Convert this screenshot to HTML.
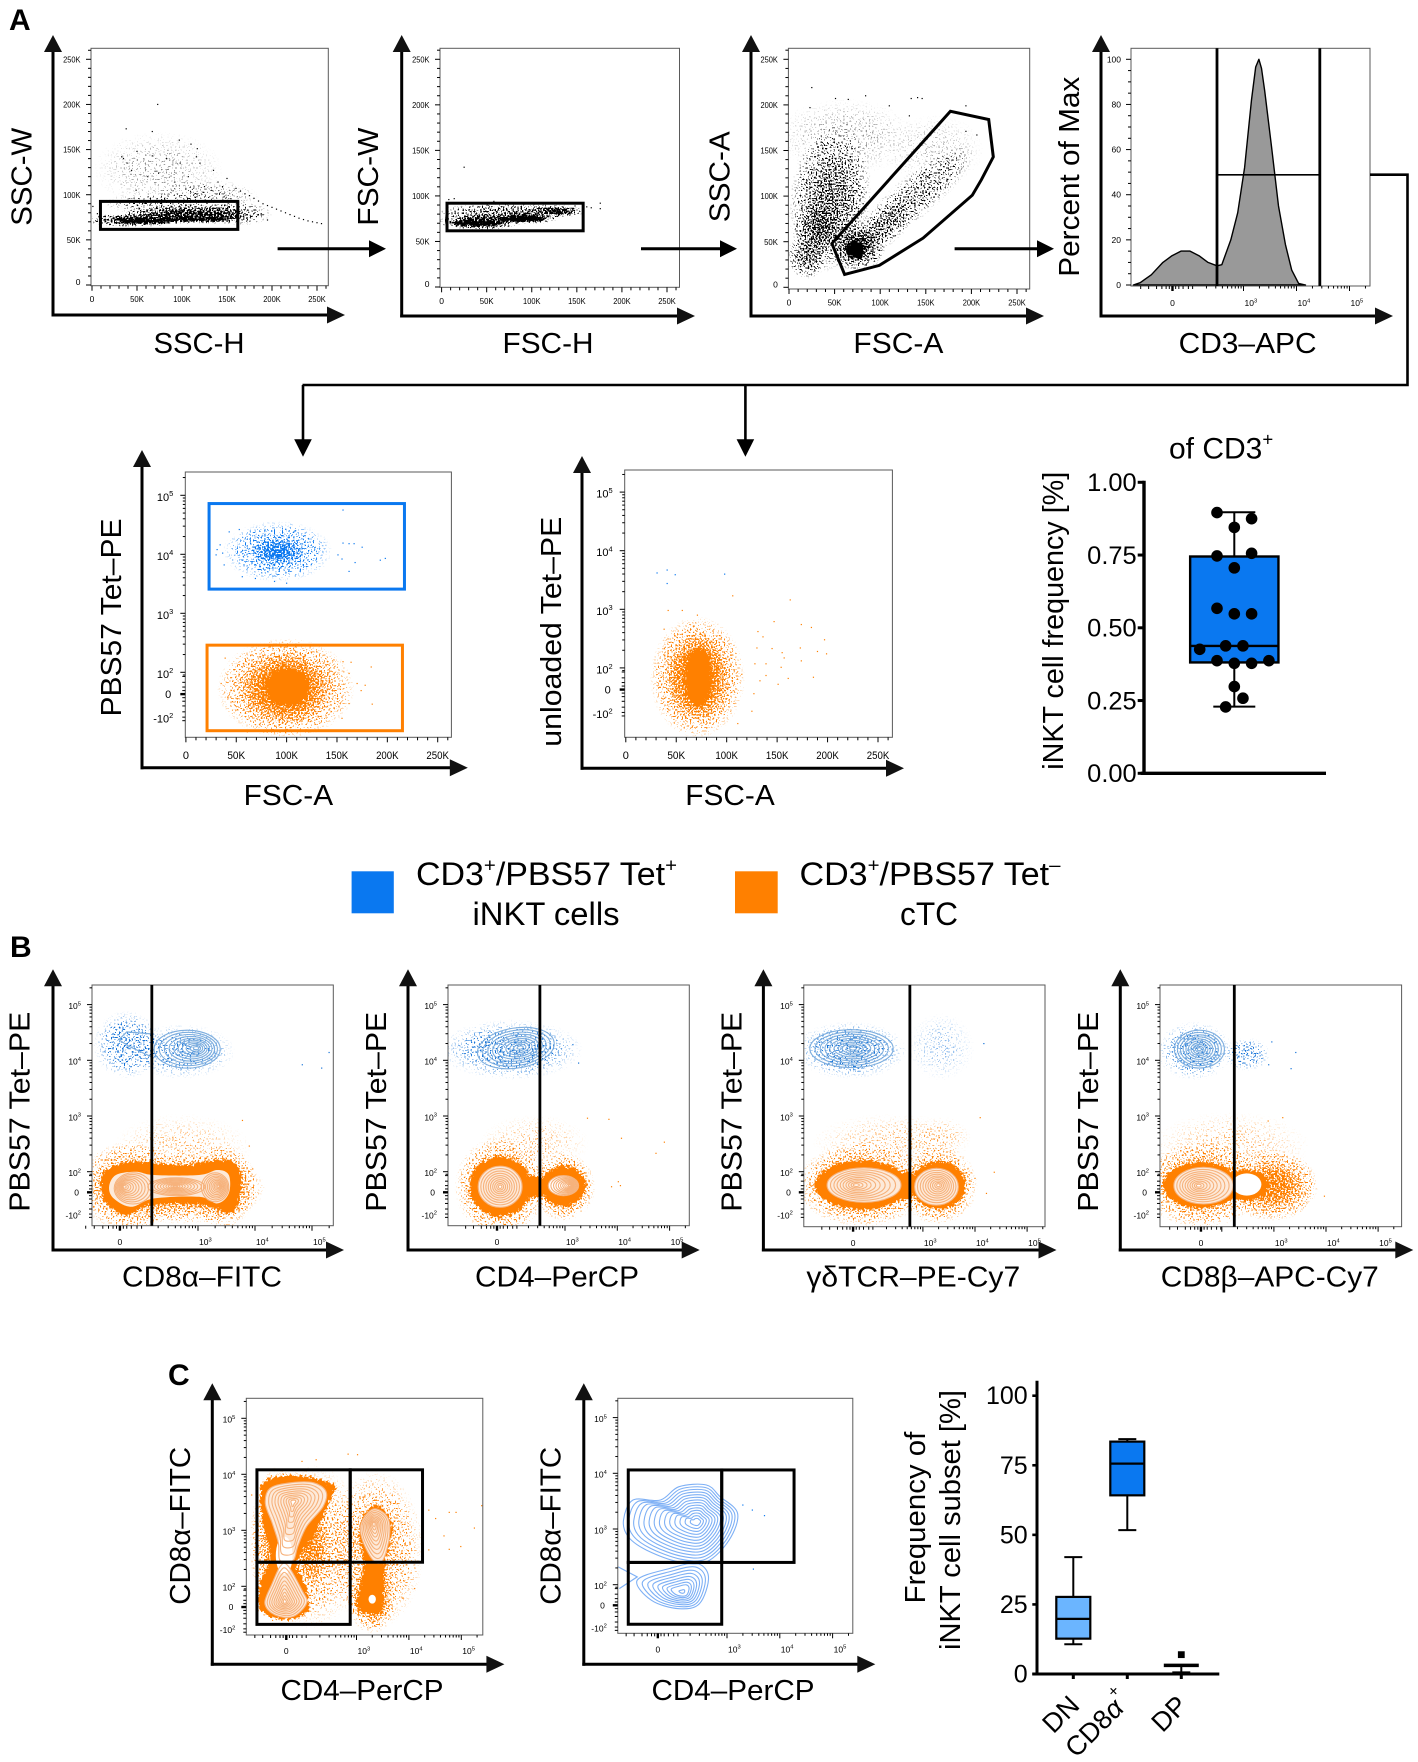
<!DOCTYPE html>
<html lang="en">
<head>
<meta charset="utf-8">
<title>iNKT cell flow cytometry figure</title>
<style>
html,body{margin:0;padding:0;background:#fff}
#figure{display:block;position:absolute;left:0;top:0;font-family:"Liberation Sans",Arial,sans-serif;filter:blur(.3px)}
</style>
</head>
<body>
<svg id="figure" xmlns="http://www.w3.org/2000/svg" width="1418" height="1762" viewBox="0 0 1418 1762"></svg>
<script>
/* ---------- shared axis values ---------- */
const linearTickValues=[0,50,100,150,200,250];
const logTickDecades=[5,4,3,2];
const zeroDecade=1.63;
const negDecade=1.24;
const contourLevels=[1,.88,.76,.65,.54,.44,.34,.25,.16,.08];
const denseLevels=[1,.93,.86,.79,.72,.65,.58,.51,.44,.37,.3,.23,.16,.09];

/* ---------- Panel A: scatter gates (K units) ---------- */
const a1Gate=[9.4,162,61.6,92.6];
const a1Clouds=[[49,72,48,6.5,1],[99,78,58,9,.95],[120,73,46,3.5,1],[140,79,30,10,.7],[165,79,30,11,.3],[74,128,62,36,.07],[125,98,52,16,.14],[70,90,50,10,.22]];
const a1Solids=[[60,71,30,2.2],[115,73,36,1.5]];
const a1Tail=[[160,107],[165,104],[170,101],[175,99],[180,96],[185,93],[190,90],[195,88],[200,86],[205,84],[210,82],[215,80],[220,78],[225,76],[230,74],[235,72.5],[240,71],[245,70],[250,69],[255,68]];
const a1Outliers=[[73,200],[38,173],[67,170],[97,160.5],[110,156],[33,142],[35,140],[50,148],[67,143],[117,151],[83,140],[98,135],[116,142],[120,135],[135,127],[44,127],[39,135],[62,120],[74,124],[92,114],[107,120],[140,114],[150,118],[49,105],[125,109],[145,109],[1,87],[6,79],[180,83],[188,79],[170,79],[195,72]];

const a2Gate=[6,157,61.7,92];
const a2Clouds=[[43,72,40,8,1],[93,76,32,6,1],[128,83,27,5.5,.95],[63,81,58,10,.45],[110,84,40,7,.32]];
const a2Solids=[[40,70,30,3],[90,75,26,2.8]];
const a2Outliers=[[25,131.5],[8,96],[14,97],[58,94],[166,87],[176,92],[176,86],[161,88],[148,89]];

const a3Gate=[[47,48],[61,14],[99,24],[147,54],[201,101],[211,118],[224,143],[219,184],[177,193]];
const a3Clouds=[[75,45,26,23,.8],[45,96,38,68,.52,6],[20,34,19,21,.5],[32,63,24,26,.5],[137,99,72,20,.3,-40],[105,68,36,18,.36,-40],[62,165,66,36,.07],[160,150,46,34,.05]];
const a3Solids=[[73,41,10,10]];
const a3Outliers=[[25,219],[51,207],[84,210],[65,206],[134,207],[141,208],[146,207],[110,199],[194,199],[23,197],[132,188],[194,171],[206,167]];

/* CD3 histogram: display decade and percent of max */
const cd3Decades=[.92,1.05,1.26,1.48,1.65,1.82,1.99,2.16,2.33,2.5,2.59,2.76,2.89,3.02,3.15,3.23,3.29,3.34,3.4,3.53,3.66,3.79,3.91,4.04,4.17];
const cd3Percent=[0,1,4.5,10,13,15,15,13,10,8.5,9,20,32,52,82,96.6,100,96,86,61,35,18,6.6,.7,0];
const cd3Gate=[2.5,4.44,48.8];

/* ---------- Tetramer vs FSC ---------- */
const p1BlueGate=[23,217,3.41,4.86];
const p1OrangeGate=[21,215,1.01,2.46];
const p1BlueClouds=[[91,4.05,46,.44,.46],[91,4.05,24,.2,.75]];
const p1OrangeClouds=[[99,1.73,58,.72,.85],[99,1.73,38,.55,1]];
const p1OrangeSolids=[[101,1.75,22,.32]];
const p1BlueOutliers=[[31,4.08],[36.5,4.02],[34,4.16],[30,3.99],[38,3.82],[43,4.38],[53,4.42],[156,4.75],[156,4.19],[162,4.18],[167,4.18],[175,4.12],[151,3.99],[155,3.92],[168,3.86],[162,3.71],[193,3.9],[198,3.93],[56,3.62],[69,3.59],[100,3.51],[88,3.54]];
const p1OrangeOutliers=[[147,2.21],[156,2.18],[164,2.17],[184,2.09],[162,1.98],[170,1.81],[178,1.78],[174,1.69],[185,1.46],[162,1.47],[155,1.22],[39,2.24],[35,1.81],[42,1.58],[61,.99],[99,.98]];

const p2OrangeClouds=[[71,1.84,40,.88,.85],[72,1.84,26,.68,1]];
const p2OrangeSolids=[[72,1.84,13,.5]];
const p2BlueOutliers=[[31,3.62],[41,3.67],[49,3.59],[41,3.44],[98,3.6]];
const p2OrangeOutliers=[[42,2.98],[56,2.98],[71,2.9],[106,3.23],[163,3.16],[147,2.79],[174,2.74],[184,2.69],[131,2.62],[136,2.53],[197,2.48],[173,2.34],[130,2.34],[145,2.33],[155,2.26],[157,2.17],[190,2.28],[199,2.24],[174,2.12],[139,2.07],[128,2.07],[154,2.01],[139,1.87],[115,1.89],[161,1.82],[186,1.84],[133,1.78],[151,1.72],[127,1.56],[125,1.26],[111,1.05],[67,2.71],[38,2.66]];

/* iNKT frequency box plot */
const inktValues=[.896,.875,.845,.747,.756,.706,.567,.548,.548,.426,.438,.438,.387,.378,.378,.387,.298,.258,.228];
const inktSwarmSlots=[-1,1,0,-1,1,0,-1,0,1,-2,-.5,.5,-1,0,1,2,0,.5,-.5];
const inktBox={low:.229,q1:.381,median:.4376,q3:.745,high:.897};
const inktTicks=['0.00','0.25','0.50','0.75','1.00'];

/* ---------- Panel B contour plots (display decades) ---------- */
const b1Gate=2.19;
const b1BlueClouds=[[1.75,4.28,.5,.52,.3],[2.71,4.16,.8,.42,.22]];
const b1BlueFamilies=[[2.81,4.2,.58,.34,2.98,4.22]];
const b1BlueLines=[[[2.23,4.47],[1.75,4.51],[1.61,4.37],[1.79,4.25],[2.23,4.04]]];
const b1BlueOutliers=[[5.3,4.14],[4.83,3.92],[5.17,3.86]];
const b1OrangeClouds=[[1.79,1.73,.76,.68,.75],[2.71,1.7,1.25,.54,.82],[3.42,1.73,.52,.64,.78],[2.71,2.4,1.05,.55,.1]];
const b1OrangeSolids=[[[1.29,1.79],[1.44,2.06],[1.91,2.18],[2.71,2.12],[3.34,2.21],[3.7,2.09],[3.74,1.61],[3.58,1.25],[3.1,1.4],[2.15,1.4],[1.75,1.22],[1.4,1.43]]];
const b1OrangePale=[[[1.44,1.73],[1.56,1.94],[1.91,2],[2.23,1.94],[3.02,1.94],[3.34,2.03],[3.54,1.94],[3.54,1.61],[3.34,1.43],[3.02,1.55],[2.23,1.52],[1.83,1.37],[1.52,1.52]]];
const b1OrangeFamilies=[[1.86,1.7,.33,.28,1.7,1.73],[3.3,1.72,.24,.26,3.36,1.74],[2.62,1.73,.5,.16,2.6,1.74]];
const b1OrangeOutliers=[[3.78,2.92],[3.9,2.46],[3.96,2.05]];

const b2Gate=2.52;
const b2BlueClouds=[[1.97,4.19,1.17,.46,.28]];
const b2BlueFamilies=[[2.06,4.22,.74,.36,2.15,4.23,-9]];
const b2BlueOutliers=[[3.26,3.95],[3.15,4.28]];
const b2OrangeClouds=[[1.76,1.73,.74,.76,.75],[2.97,1.73,.52,.52,.78],[2.41,2.51,.9,.44,.1]];
const b2OrangeSolids=[[1.76,1.73,.59,.54],[2.97,1.74,.43,.36],[2.41,1.73,.3,.2]];
const b2OrangePale=[[1.76,1.73,.42,.37]];
const b2OrangeFamilies=[[1.76,1.73,.42,.37,1.76,1.73],[2.97,1.75,.29,.18,3.1,1.75]];
const b2OrangeOutliers=[[3.43,2.96],[3.84,2.94],[4.08,2.6],[4.9,2.53],[4.74,2.33],[4.06,1.75],[4.02,1.82],[3.89,1.73]];

const b3Gate=2.75;
const b3BlueClouds=[[1.61,4.18,.92,.44,.28],[3.35,4.24,.55,.52,.08]];
const b3BlueFamilies=[[1.63,4.21,.8,.34,1.66,4.21]];
const b3BlueOutliers=[[4.17,4.3]];
const b3OrangeClouds=[[1.83,1.76,1.07,.64,.78],[3.3,1.76,.64,.6,.75],[2.39,2.53,1.3,.44,.1],[3.35,2.64,.5,.3,.08]];
const b3OrangeSolids=[[1.83,1.76,.91,.44],[3.3,1.76,.52,.43],[2.7,1.76,.2,.25]];
const b3OrangePale=[[1.87,1.76,.71,.31],[3.26,1.73,.42,.33]];
const b3OrangeFamilies=[[1.87,1.76,.71,.31,1.71,1.76],[3.26,1.73,.42,.33,3.3,1.76]];
const b3OrangeOutliers=[[4.1,2.97],[4.37,1.99],[4.22,1.61],[4,1.88]];

const b4Gate=2.24;
const b4BlueClouds=[[1.48,4.17,.62,.45,.28],[2.48,4.11,.38,.26,.26]];
const b4BlueFamilies=[[1.57,4.2,.48,.34,1.57,4.2]];
const b4BlueOutliers=[[2.96,4.33],[3.42,4.14],[3.33,3.85],[2.9,3.92]];
const b4OrangeClouds=[[1.61,1.76,.96,.66,.78],[2.96,1.75,.76,.54,.92],[2.17,2.46,1.3,.53,.1]];
const b4OrangeSolids=[[1.61,1.76,.74,.41],[2.48,1.76,.42,.28]];
const b4OrangePale=[[1.65,1.75,.57,.33]];
const b4OrangeWhite=[[2.48,1.77,.28,.2]];
const b4OrangeFamilies=[[1.65,1.75,.57,.33,1.55,1.75]];
const b4OrangeOutliers=[[3.97,1.56],[3.17,2.97],[2.89,2.91]];

/* ---------- Panel C ---------- */
const cdQuadC1=[1.1,2.88,4.26,1.32,2.43,4.08];
const cdQuadC2=[1.13,2.9,4.27,1.29,2.4,4.06];
const c1Clouds=[[2.14,2.71,.9,1.25,.36],[3.37,2.65,.78,1.2,.42],[3.3,1.8,.4,.55,.9],[1.5,2.75,.46,1.18,.72],[2.15,2.7,.3,.7,.7]];
const c1Solids=[[[1.16,3.6],[1.28,3.9],[1.88,3.98],[2.55,3.82],[2.5,3.54],[2.18,2.89],[1.86,2.41],[2.06,1.93],[2.06,1.54],[1.61,1.4],[1.16,1.58],[1.16,2.05],[1.36,2.53],[1.24,3]],[[3.22,3.37],[3.46,3.42],[3.68,3.07],[3.56,2.41],[3.52,1.93],[3.5,1.56],[3.28,1.5],[3,1.66],[3.14,2.35],[3.05,3.01]]];
const c1Pale=[[[1.26,3.48],[1.35,3.75],[1.75,3.85],[2.18,3.85],[2.42,3.69],[2.36,3.42],[2.05,3.07],[1.88,2.71],[1.79,2.46],[1.54,2.46],[1.51,2.77],[1.39,3.13]],[[1.68,2.38],[1.96,1.93],[2.05,1.7],[1.79,1.46],[1.44,1.49],[1.25,1.7],[1.39,2.05],[1.54,2.35]],[[3.09,3.13],[3.32,3.38],[3.59,3.24],[3.63,2.89],[3.5,2.46],[3.32,2.46],[3.11,2.83]]];
const c1PeakUpper=[1.79,3.51];
const c1PeakLower=[1.63,1.72];
const c1PeakRight=[3.33,3.12];
const c1White=[[3.3,1.77,.07,.08],[1.62,2.55,.16,.34]];
const c1Outliers=[[4.38,3.36],[4.77,3.32],[4.9,3.32],[4.51,3.21],[4.67,2.9],[4.77,2.66],[4.99,2.71],[5.25,3.04],[5.39,3.44],[4.38,2.65],[4.11,1.96],[3.89,1.79],[2.84,4.36],[3.02,4.35],[1.96,4.23],[2.23,4.26],[1,3.63]];

const c2UpperContour=[[1.04,3.16],[1.22,3.52],[1.74,3.52],[2.09,3.76],[2.61,3.79],[2.87,3.58],[3.2,3.28],[3.04,2.8],[2.61,2.41],[2.09,2.41],[1.48,2.62],[1.13,2.86]];
const c2UpperPeak=[2.43,3.13];
const c2LowerContour=[[1.3,2.08],[1.91,2.29],[2.43,2.38],[2.65,2.14],[2.48,1.66],[2.09,1.57],[1.57,1.72]];
const c2LowerPeak=[2.16,1.87];
const c2Lines=[[[.94,2.32],[1.3,2.14],[.96,1.93]]];
const c2Outliers=[[3.3,3.43],[3.48,3.34],[3.71,3.24],[3.5,2.28]];

/* subset frequency box plot */
const subsetNames=['DN','CD8α','DP'];
const subsetLow=[10.7,51.7,.6];
const subsetQ1=[12.7,64.2,3.1];
const subsetMedian=[19.8,75.6,3.1];
const subsetQ3=[27.7,83.5,3.1];
const subsetHigh=[42,84.4,3.1];
const subsetOutlier=[6.95];
const subsetTicks=[0,25,50,75,100];

/* ---------- helpers ---------- */
const NS='http://www.w3.org/2000/svg';
const svg=document.getElementById('figure');
const defs=document.createElementNS(NS,'defs');
svg.appendChild(defs);
function raw(parent,tag,attrs){
  const e=document.createElementNS(NS,tag);
  for(const k in attrs)e.setAttribute(k,attrs[k]);
  parent.appendChild(e);
  return e;
}
function mk(parent,tag,attrs,name){
  const e=raw(parent,tag,attrs);
  
  
  return e;
}
function group(parent,name){return mk(parent,'g',{},name);}
function txt(parent,x,y,str,o,name){
  o=o||{};
  const a={x:x,y:y,'font-size':o.size||29,'text-anchor':o.anchor||'middle',fill:o.fill||'#000'};
  if(o.weight)a['font-weight']=o.weight;
  if(o.rot!==undefined)a.transform='rotate('+o.rot+' '+x+' '+y+')';
  if(o.len){a.textLength=o.len;a.lengthAdjust='spacingAndGlyphs';}
  const e=mk(parent,'text',a,name);
  e.textContent=str;
  return e;
}
function rich(parent,x,y,parts,o,name){
  o=o||{};
  const a={x:x,y:y,'font-size':o.size||29,'text-anchor':o.anchor||'middle',fill:'#000'};
  if(o.rot!==undefined)a.transform='rotate('+o.rot+' '+x+' '+y+')';
  if(o.len){a.textLength=o.len;a.lengthAdjust='spacingAndGlyphs';}
  const e=mk(parent,'text',a,name);
  const size=o.size||29;
  let shift=0;
  parts.forEach(function(pt){
    const sup=pt[1]===1;
    const t=raw(e,'tspan',{});
    const rise=sup?(o.rise||.42)*size:0;
    t.setAttribute('dy',(shift-rise).toFixed(2));
    if(sup)t.setAttribute('font-size',(size*(o.supScale||.68)).toFixed(2));
    if(pt[2])t.setAttribute('font-style','italic');
    t.textContent=pt[0];
    shift=rise;
  });
  return e;
}
function smooth(pts){
  const n=pts.length;
  let d='M'+pts[0][0].toFixed(1)+' '+pts[0][1].toFixed(1);
  for(let i=0;i<n;i++){
    const a=pts[(i-1+n)%n],b=pts[i],c=pts[(i+1)%n],e=pts[(i+2)%n];
    d+='C'+(b[0]+(c[0]-a[0])/6).toFixed(1)+' '+(b[1]+(c[1]-a[1])/6).toFixed(1)+' '+(c[0]-(e[0]-b[0])/6).toFixed(1)+' '+(c[1]-(e[1]-b[1])/6).toFixed(1)+' '+c[0].toFixed(1)+' '+c[1].toFixed(1);
  }
  return d+'Z';
}
function linAxis(p0,p250){return function(v){return p0+v*(p250-p0)/250;};}
function decAxis(p3,p4){return function(d){return p3+(d-3)*(p4-p3);};}

/* soft radial density used for stippled populations */
const grad=raw(defs,'radialGradient',{id:'cloud-density'});
raw(grad,'stop',{offset:'0','stop-color':'#000','stop-opacity':'1'});
raw(grad,'stop',{offset:'.35','stop-color':'#000','stop-opacity':'.85'});
raw(grad,'stop',{offset:'.65','stop-color':'#000','stop-opacity':'.42'});
raw(grad,'stop',{offset:'.85','stop-color':'#000','stop-opacity':'.14'});
raw(grad,'stop',{offset:'1','stop-color':'#000','stop-opacity':'0'});

let filterCount=0;
function stippleFilter(rect,color){
  filterCount++;
  const id='stipple-'+filterCount;
  const f=raw(defs,'filter',{id:id,filterUnits:'userSpaceOnUse',x:rect[0],y:rect[1],width:rect[2]-rect[0],height:rect[3]-rect[1],'color-interpolation-filters':'sRGB'});
  raw(f,'feTurbulence',{type:'fractalNoise',baseFrequency:'.62',numOctaves:'1',seed:String(filterCount*7+3),result:'rawNoise'});
  const nc=raw(f,'feComponentTransfer',{in:'rawNoise',result:'noise'});
  raw(nc,'feFuncA',{type:'linear',slope:'3.6',intercept:'-1.3'});
  raw(f,'feComposite',{in:'SourceAlpha',in2:'noise',operator:'arithmetic',k1:'0',k2:'1',k3:'1',k4:'-1',result:'sum'});
  const ct=raw(f,'feComponentTransfer',{in:'sum',result:'hard'});
  raw(ct,'feFuncA',{type:'linear',slope:'7',intercept:'0'});
  raw(f,'feFlood',{'flood-color':color,result:'ink'});
  raw(f,'feComposite',{in:'ink',in2:'hard',operator:'in'});
  return id;
}
function roughFilter(rect){
  filterCount++;
  const id='rough-'+filterCount;
  const f=raw(defs,'filter',{id:id,filterUnits:'userSpaceOnUse',x:rect[0],y:rect[1],width:rect[2]-rect[0],height:rect[3]-rect[1],'color-interpolation-filters':'sRGB'});
  raw(f,'feTurbulence',{type:'fractalNoise',baseFrequency:'.4',numOctaves:'2',seed:String(filterCount*5+1),result:'n'});
  raw(f,'feDisplacementMap',{in:'SourceGraphic',in2:'n',scale:'9',xChannelSelector:'R',yChannelSelector:'G'});
  return id;
}
const palette={
  black:{dot:'#000',pale:'#fff',line:'#000'},
  orange:{dot:'#ff8000',pale:'#fdeada',line:'#f6b27c'},
  blue:{dot:'#1573d8',pale:'#fff',line:'#7eaede'},
  bright:{dot:'#0a78f0',pale:'#fff',line:'#7eb0f5'}
};
function shape(parent,p,item,attrs,name,grow){
  if(Array.isArray(item[0])){
    const pts=item.map(function(q){return [p.xs(q[0]),p.ys(q[1])];});
    const a=Object.assign({d:smooth(pts)},attrs);
    return mk(parent,'path',a,name);
  }
  const cx=p.xs(item[0]),cy=p.ys(item[1]);
  const k=grow||1;
  const rx=k*Math.abs(p.xs(item[0]+item[2])-cx),ry=k*Math.abs(p.ys(item[1]+item[3])-cy);
  const a=Object.assign({cx:cx,cy:cy,rx:rx,ry:ry},attrs);
  if(item[5])a.transform='rotate('+item[5]+' '+cx+' '+cy+')';
  return mk(parent,'ellipse',a,name);
}
function drawLayer(g,p,L){
  const c=palette[L.color];
  if(L.clouds){
    const id=stippleFilter(p.rect,c.dot);
    const cg=group(g,L.color+'-event-cloud');
    cg.setAttribute('filter','url(#'+id+')');
    L.clouds.forEach(function(it){
      shape(cg,p,it,{fill:'url(#cloud-density)','fill-opacity':it[4]},'event-density',1.18);
    });
  }
  if(L.solids){
    const sg=group(g,L.color+'-dense-populations');
    sg.setAttribute('filter','url(#'+roughFilter(p.rect)+')');
    L.solids.forEach(function(it){shape(sg,p,it,{fill:c.dot},'dense-population');});
  }
  (L.pale||[]).forEach(function(it){shape(g,p,it,{fill:c.pale},'contour-interior');});
  (L.white||[]).forEach(function(it){shape(g,p,it,{fill:'#fff'},'contour-peak-region');});
  (L.families||[]).forEach(function(f){
    const n=f[7]||contourLevels.length;
    contourLevels.slice(0,n).forEach(function(l,i){
      const fx=f[4],fy=f[5];
      const it=[fx+(f[0]-fx)*l,fy+(f[1]-fy)*l,f[2]*l,f[3]*l];
      const e=shape(g,p,it,{fill:i===contourLevels.length-1?'#fff':'none',stroke:c.line,'stroke-width':1.1},'contour-line');
      if(f[6]){
        e.setAttribute('transform','rotate('+f[6]+' '+e.getAttribute('cx')+' '+e.getAttribute('cy')+')');
      }
    });
  });
  (L.polyFamilies||[]).forEach(function(f){
    const lv=f.levels||contourLevels;
    lv.forEach(function(l,i){
      const pts=f.pts.map(function(q){return [f.peak[0]+(q[0]-f.peak[0])*l,f.peak[1]+(q[1]-f.peak[1])*l];});
      shape(g,p,pts,{fill:i===lv.length-1?'#fff':'none',stroke:c.line,'stroke-width':1.1},'contour-line');
    });
  });
  (L.lines||[]).forEach(function(ln){
    const d='M'+ln.map(function(q){return p.xs(q[0]).toFixed(1)+' '+p.ys(q[1]).toFixed(1);}).join('L');
    mk(g,'path',{d:d,fill:'none',stroke:c.line,'stroke-width':1.2},'contour-line');
  });
  (L.points||[]).forEach(function(q){
    mk(g,'rect',{x:p.xs(q[0])-.6,y:p.ys(q[1])-.6,width:1.2,height:1.2,fill:c.dot},'event-point');
  });
}
function arrowAxes(parent,ax,ay,topTip,rightTip){
  const g=group(parent,'axis-arrows');
  mk(g,'line',{x1:ax,y1:ay+1.5,x2:ax,y2:topTip+15,stroke:'#000','stroke-width':3},'y-axis-line');
  mk(g,'line',{x1:ax-1.5,y1:ay,x2:rightTip-15,y2:ay,stroke:'#000','stroke-width':3},'x-axis-line');
  mk(g,'polygon',{points:(ax-9)+','+(topTip+17)+' '+(ax+9)+','+(topTip+17)+' '+ax+','+topTip,fill:'#111'},'y-axis-arrowhead');
  mk(g,'polygon',{points:(rightTip-18)+','+(ay-8.5)+' '+(rightTip-18)+','+(ay+8.5)+' '+rightTip+','+ay,fill:'#111'},'x-axis-arrowhead');
}
function flowArrow(parent,x1,x2,y){
  mk(parent,'line',{x1:x1,y1:y,x2:x2-16,y2:y,stroke:'#000','stroke-width':3},'gating-arrow-line');
  mk(parent,'polygon',{points:(x2-17)+','+(y-8.5)+' '+(x2-17)+','+(y+8.5)+' '+x2+','+y,fill:'#000'},'gating-arrow-head');
}
function downArrow(parent,x,y1,y2){
  mk(parent,'line',{x1:x,y1:y1,x2:x,y2:y2-16,stroke:'#000','stroke-width':2.6},'gating-arrow-line');
  mk(parent,'polygon',{points:(x-8.8)+','+(y2-17.5)+' '+(x+8.8)+','+(y2-17.5)+' '+x+','+y2,fill:'#000'},'gating-arrow-head');
}
function drawFrame(p,g){
  const r=p.rect;
  mk(g,'rect',{x:r[0],y:r[1],width:r[2]-r[0],height:r[3]-r[1],fill:'none',stroke:'#5a5a5a','stroke-width':1},'plot-frame');
}
function tickLine(g,x1,y1,x2,y2,w,name){mk(g,'line',{x1:x1,y1:y1,x2:x2,y2:y2,stroke:'#000','stroke-width':w},name);}
function kLabelLength(p,s){return s.length===4?p.tick*2.05:p.tick*1.62;}
function linearX(p,g){
  const b=p.rect[3];
  for(let v=0;v<=260;v+=10){
    const x=p.xs(v);
    if(x>p.rect[2])break;
    tickLine(g,x,b,x,b+(v%50===0?5:3),1,'x-tick');
  }
  linearTickValues.forEach(function(v){
    const s=v===0?'0':v+'K';
    txt(g,p.xs(v),b+p.xDy,s,{size:p.tick,len:v===0?undefined:kLabelLength(p,s)},'x-tick-label');
  });
}
function linearY(p,g){
  const l=p.rect[0];
  for(let v=0;v<=260;v+=10){
    const y=p.ys(v);
    if(y<p.rect[1])break;
    tickLine(g,l,y,l-(v%50===0?5:3),y,1,'y-tick');
  }
  linearTickValues.forEach(function(v){
    const s=v===0?'0':v+'K';
    const up=v===0?3:0;
    txt(g,l-p.yDx,p.ys(v)+p.tick*.36-up,s,{size:p.tick,anchor:'end',len:v===0?undefined:kLabelLength(p,s)},'y-tick-label');
  });
}
function logMinors(f){
  const out=[];
  [1,2,3,4,5].forEach(function(d){for(let k=1;k<=9;k++){out.push(d+Math.log10(k));}});
  return out.filter(f);
}
function logX(p,g){
  const b=p.rect[3],zero=p.zeroX||zeroDecade;
  logMinors(function(d){return d>zero+.38&&p.xs(d)<p.rect[2];}).forEach(function(d){
    const maj=Math.abs(d-Math.round(d))<.001;
    tickLine(g,p.xs(d),b,p.xs(d),b+(maj?5:2.5),1,'x-tick');
  });
  [-.6,-.45,-.3,-.2,-.12,-.06,0,.06,.12,.2,.3,.38].forEach(function(o){
    tickLine(g,p.xs(zero+o),b,p.xs(zero+o),b+(Math.abs(o)<.04?5:3),o===0?2.4:1,'x-tick');
  });
  txt(g,p.xs(zero),b+p.xDy,'0',{size:p.tick},'x-tick-label');
  [3,4,5].forEach(function(d){
    rich(g,p.xs(d)+1,b+p.xDy,[['10',0],[String(d),1]],{size:p.tick,anchor:'start'},'x-tick-label');
  });
}
function logY(p,g){
  const l=p.rect[0];
  logMinors(function(d){return d>zeroDecade+.3&&p.ys(d)>p.rect[1];}).forEach(function(d){
    const maj=Math.abs(d-Math.round(d))<.001;
    tickLine(g,l,p.ys(d),l-(maj?5:2.5),p.ys(d),1,'y-tick');
  });
  [-.45,-.39,-.3,-.2,-.12,-.06,0,.06,.12,.2,.3].forEach(function(o){
    tickLine(g,l,p.ys(zeroDecade+o),l-(Math.abs(o)<.04?5:3),p.ys(zeroDecade+o),o===0?2.4:1,'y-tick');
  });
  const dx=p.yDx;
  logTickDecades.forEach(function(d){
    rich(g,l-dx,p.ys(d)+p.tick*.5,[['10',0],[String(d),1]],{size:p.tick,anchor:'end'},'y-tick-label');
  });
  txt(g,l-dx-2,p.ys(zeroDecade)+p.tick*.36,'0',{size:p.tick,anchor:'end'},'y-tick-label');
  rich(g,l-dx,p.ys(negDecade)+p.tick*.5,[['-10',0],['2',1]],{size:p.tick,anchor:'end'},'y-tick-label');
}
let clipCount=0;
function flowPlot(p){
  const g=group(svg,p.name);
  const clipId='plot-clip-'+(++clipCount);
  const cp=raw(defs,'clipPath',{id:clipId});
  raw(cp,'rect',{x:p.rect[0],y:p.rect[1],width:p.rect[2]-p.rect[0],height:p.rect[3]-p.rect[1]});
  const inner=group(g,p.name+'-events');
  inner.setAttribute('clip-path','url(#'+clipId+')');
  (p.layers||[]).forEach(function(L){drawLayer(inner,p,L);});
  if(p.extra)p.extra(inner,p);
  const axes=group(g,p.name+'-axes');
  drawFrame(p,axes);
  (p.xLog?logX:linearX)(p,axes);
  if(p.pct)p.pct(p,axes);else (p.yLog?logY:linearY)(p,axes);
  if(p.gates)p.gates(g,p);
  arrowAxes(g,p.axis[0],p.axis[1],p.axis[2],p.axis[3]);
  txt(g,p.yLabel[1],p.yLabel[2],p.yLabel[0],{rot:-90,len:p.yLabel[3]},'y-axis-title');
  txt(g,p.xLabel[1],p.xLabel[2],p.xLabel[0],{len:p.xLabel[3]},'x-axis-title');
  return g;
}
function rectGate(g,p,v,color,name){
  const x=p.xs(v[0]),x2=p.xs(v[1]),y=p.ys(v[3]),y2=p.ys(v[2]);
  mk(g,'rect',{x:x,y:y,width:x2-x,height:y2-y,fill:'none',stroke:color,'stroke-width':3},name);
}
function vGate(g,p,d){
  const x=p.xs(d);
  mk(g,'line',{x1:x,y1:p.rect[1],x2:x,y2:p.rect[3],stroke:'#000','stroke-width':2.8},'vertical-gate');
}
function quadGate(g,p,q){
  const a=p.xs(q[0]),b=p.xs(q[1]),c=p.xs(q[2]),bot=p.ys(q[3]),mid=p.ys(q[4]),top=p.ys(q[5]);
  const attrs={fill:'none',stroke:'#000','stroke-width':3};
  mk(g,'rect',Object.assign({x:a,y:top,width:b-a,height:mid-top},attrs),'cd8-single-positive-gate');
  mk(g,'rect',Object.assign({x:b,y:top,width:c-b,height:mid-top},attrs),'double-positive-gate');
  mk(g,'rect',Object.assign({x:a,y:mid,width:b-a,height:bot-mid},attrs),'double-negative-gate');
}

/* ---------- panel letters ---------- */
txt(svg,9,30,'A',{size:30,weight:'bold',anchor:'start'},'panel-label-a');
txt(svg,10,957,'B',{size:30,weight:'bold',anchor:'start'},'panel-label-b');
txt(svg,168,1385,'C',{size:30,weight:'bold',anchor:'start'},'panel-label-c');

/* ---------- Panel A row 1 ---------- */
const tickA={tick:8.5,xDy:16.5,yDx:10.5};
flowPlot(Object.assign({name:'ssc-width-plot',rect:[91,48.3,328.3,285.7],xs:linAxis(92,317),ys:linAxis(285,59.3),
  layers:[{color:'black',clouds:a1Clouds,solids:a1Solids,points:a1Outliers.concat(a1Tail)}],
  gates:function(g,p){rectGate(g,p,a1Gate,'#000','ssc-singlet-gate');},
  axis:[53,315,35,345],yLabel:['SSC-W',31.7,176.7,98],xLabel:['SSC-H',199,353,91]},tickA));
flowPlot(Object.assign({name:'fsc-width-plot',rect:[440,48.3,679.5,287.3],xs:linAxis(441.6,667),ys:linAxis(287,59.3),
  layers:[{color:'black',clouds:a2Clouds,solids:a2Solids,points:a2Outliers}],
  gates:function(g,p){rectGate(g,p,a2Gate,'#000','fsc-singlet-gate');},
  axis:[401.7,316,35,695],yLabel:['FSC-W',378,176.7,98],xLabel:['FSC-H',548,353,91]},tickA));
flowPlot(Object.assign({name:'fsc-ssc-plot',rect:[788.4,48.3,1029.7,289],xs:linAxis(789,1017),ys:linAxis(287.3,59.3),
  layers:[{color:'black',clouds:a3Clouds,solids:a3Solids,points:a3Outliers}],
  gates:function(g,p){
    const pts=a3Gate.map(function(q){return p.xs(q[0]).toFixed(1)+','+p.ys(q[1]).toFixed(1);}).join(' ');
    mk(g,'polygon',{points:pts,fill:'none',stroke:'#000','stroke-width':3},'lymphocyte-gate');
  },
  axis:[751,316,35,1044],yLabel:['SSC-A',729.5,176.7,91],xLabel:['FSC-A',898.4,353,90]},tickA));
flowPlot({name:'cd3-histogram',rect:[1131,48.3,1370,286],xs:decAxis(1243.5,1296.5),ys:function(v){return 285-v*2.257;},xLog:true,zeroX:1.66,tick:8.5,xDy:20,yDx:10,
  extra:function(g,p){
    let d='M'+p.xs(cd3Decades[0]).toFixed(1)+' '+p.ys(0).toFixed(1);
    cd3Decades.forEach(function(v,i){d+='L'+p.xs(v).toFixed(1)+' '+p.ys(cd3Percent[i]).toFixed(1);});
    d+='Z';
    mk(g,'path',{d:d,fill:'#999',stroke:'#000','stroke-width':1.4,'stroke-linejoin':'round'},'cd3-histogram-curve');
  },
  pct:function(p,g){
    const l=p.rect[0];
    for(let v=0;v<=100;v+=5){tickLine(g,l,p.ys(v),l-(v%20===0?5:3),p.ys(v),1,'y-tick');}
    [0,20,40,60,80,100].forEach(function(v){txt(g,l-p.yDx,p.ys(v)+3,String(v),{size:p.tick,anchor:'end'},'y-tick-label');});
  },
  gates:function(g,p){
    vGate(g,p,cd3Gate[0]);
    vGate(g,p,cd3Gate[1]);
    mk(g,'line',{x1:p.xs(cd3Gate[0]),y1:p.ys(cd3Gate[2]),x2:p.xs(cd3Gate[1]),y2:p.ys(cd3Gate[2]),stroke:'#000','stroke-width':1.6},'cd3-positive-gate-bar');
  },
  axis:[1101,316,35,1393],yLabel:['Percent of Max',1079,176.7,200],xLabel:['CD3–APC',1247.6,353,138]});

const connectors=group(svg,'gating-flow-arrows');
flowArrow(connectors,277.6,386,248.7);
flowArrow(connectors,641,737,248.7);
flowArrow(connectors,954.6,1054,248.7);
mk(connectors,'path',{d:'M1370 174.7H1407.5V385H302.5',fill:'none',stroke:'#000','stroke-width':2.6},'cd3-gate-connector');
downArrow(connectors,303,385,456.7);
downArrow(connectors,745.4,385,456.7);

/* ---------- Panel A row 2 ---------- */
flowPlot({name:'pbs57-tetramer-plot',rect:[185.3,472,451.4,737.3],xs:linAxis(185.9,437.7),ys:decAxis(613.3,554.3),yLog:true,tick:11,xDy:21.5,yDx:12,
  layers:[{color:'orange',clouds:p1OrangeClouds,solids:p1OrangeSolids,points:p1OrangeOutliers},{color:'bright',clouds:p1BlueClouds,points:p1BlueOutliers}],
  gates:function(g,p){rectGate(g,p,p1BlueGate,'#0a78f0','inkt-cell-gate');rectGate(g,p,p1OrangeGate,'#ff8000','ctc-gate');},
  axis:[142,767.7,450,467.8],yLabel:['PBS57 Tet–PE',121,617.5,198],xLabel:['FSC-A',288.4,805,89.4]});
flowPlot({name:'unloaded-tetramer-plot',rect:[624.7,470,892.4,737.3],xs:linAxis(625.8,878),ys:decAxis(609.3,550.7),yLog:true,tick:11,xDy:21.5,yDx:12,
  layers:[{color:'orange',clouds:p2OrangeClouds,solids:p2OrangeSolids,points:p2OrangeOutliers},{color:'bright',points:p2BlueOutliers}],
  axis:[582,768.3,456,904],yLabel:['unloaded Tet–PE',561,631.7,230],xLabel:['FSC-A',730,805,89.4]});

/* iNKT frequency box plot */
(function(){
  const g=group(svg,'inkt-frequency-boxplot');
  const y=function(v){return 773.3-291*v;};
  const cx=1234.3,half=44.15,step=17.3;
  const b=inktBox;
  mk(g,'line',{x1:cx,y1:y(b.high),x2:cx,y2:y(b.low),stroke:'#000','stroke-width':2},'box-whisker');
  mk(g,'line',{x1:cx-21,y1:y(b.high),x2:cx+21,y2:y(b.high),stroke:'#000','stroke-width':2},'whisker-cap-high');
  mk(g,'line',{x1:cx-21,y1:y(b.low),x2:cx+21,y2:y(b.low),stroke:'#000','stroke-width':2},'whisker-cap-low');
  mk(g,'rect',{x:cx-half,y:y(b.q3),width:2*half,height:y(b.q1)-y(b.q3),fill:'#0a78f0',stroke:'#000','stroke-width':2.4},'interquartile-box');
  mk(g,'line',{x1:cx-half,y1:y(b.median),x2:cx+half,y2:y(b.median),stroke:'#000','stroke-width':2.4},'median-line');
  inktValues.forEach(function(v,i){
    mk(g,'circle',{cx:cx+inktSwarmSlots[i]*step,cy:y(v),r:5.8,fill:'#000'},'donor-point');
  });
  mk(g,'line',{x1:1144,y1:480.7,x2:1144,y2:775,stroke:'#000','stroke-width':3.4},'y-axis-line');
  mk(g,'line',{x1:1140.7,y1:773.3,x2:1326,y2:773.3,stroke:'#000','stroke-width':3.4},'x-axis-line');
  inktTicks.forEach(function(s){
    const v=parseFloat(s);
    mk(g,'line',{x1:1140.7-3,y1:y(v),x2:1144,y2:y(v),stroke:'#000','stroke-width':3},'y-tick');
    txt(g,1136.7,y(v)+8.8,s,{size:25,anchor:'end',len:49.5},'y-tick-label');
  });
  txt(g,1063,620.8,'iNKT cell frequency [%]',{size:28.7,rot:-90,len:298},'y-axis-title');
  rich(g,1169,458.3,[['of CD3',0],['+',1]],{size:30,anchor:'start',supScale:.62},'boxplot-title');
})();

/* ---------- Legend ---------- */
(function(){
  const g=group(svg,'population-legend');
  mk(g,'rect',{x:351.6,y:871.3,width:42.2,height:42,fill:'#0a78f0'},'inkt-legend-swatch');
  rich(g,546.5,885,[['CD3',0],['+',1],['/PBS57 Tet',0],['+',1]],{size:32,supScale:.6,len:261},'inkt-legend-label');
  txt(g,546,925,'iNKT cells',{size:32,len:147},'inkt-legend-sublabel');
  mk(g,'rect',{x:735,y:871.3,width:42.7,height:42,fill:'#ff8000'},'ctc-legend-swatch');
  rich(g,930,885,[['CD3',0],['+',1],['/PBS57 Tet',0],['–',1]],{size:32,supScale:.6,len:261},'ctc-legend-label');
  txt(g,929,925,'cTC',{size:32,len:58},'ctc-legend-sublabel');
})();

/* ---------- Panel B ---------- */
const yB=decAxis(1116,1060.3);
const tickB={tick:8.5,xDy:19.5,yDx:11,yLog:true,xLog:true};
flowPlot(Object.assign({name:'cd8a-fitc-plot',rect:[92,985,333.3,1225.7],xs:decAxis(198,255),ys:yB,zeroX:1.63,
  layers:[{color:'orange',clouds:b1OrangeClouds,solids:b1OrangeSolids,pale:b1OrangePale,families:b1OrangeFamilies,points:b1OrangeOutliers},
          {color:'blue',clouds:b1BlueClouds,families:b1BlueFamilies,lines:b1BlueLines,points:b1BlueOutliers}],
  gates:function(g,p){vGate(g,p,b1Gate);},
  axis:[53,1250,969.3,344],yLabel:['PBS57 Tet–PE',29.4,1111.7,200],xLabel:['CD8α–FITC',202,1286.7,160]},tickB));
flowPlot(Object.assign({name:'cd4-percp-plot',rect:[448,985,689.3,1225.7],xs:decAxis(565,617.3),ys:yB,zeroX:1.7,
  layers:[{color:'orange',clouds:b2OrangeClouds,solids:b2OrangeSolids,pale:b2OrangePale,white:[[2.97,1.75,.29,.18]],families:b2OrangeFamilies,points:b2OrangeOutliers},
          {color:'blue',clouds:b2BlueClouds,families:b2BlueFamilies,points:b2BlueOutliers}],
  gates:function(g,p){vGate(g,p,b2Gate);},
  axis:[408,1250,969.3,699.7],yLabel:['PBS57 Tet–PE',385.9,1111.7,200],xLabel:['CD4–PerCP',557,1286.7,164]},tickB));
flowPlot(Object.assign({name:'gamma-delta-tcr-plot',rect:[803.8,985,1045,1226.7],xs:decAxis(922.9,975),ys:yB,zeroX:1.66,
  layers:[{color:'orange',clouds:b3OrangeClouds,solids:b3OrangeSolids,pale:b3OrangePale,families:b3OrangeFamilies,points:b3OrangeOutliers},
          {color:'blue',clouds:b3BlueClouds,families:b3BlueFamilies,points:b3BlueOutliers}],
  gates:function(g,p){vGate(g,p,b3Gate);},
  axis:[763.4,1250,969.3,1056.5],yLabel:['PBS57 Tet–PE',741.7,1111.7,200],xLabel:['γδTCR–PE-Cy7',913.3,1286.7,213.8]},tickB));
flowPlot(Object.assign({name:'cd8b-apc-cy7-plot',rect:[1160,985,1401.6,1226.7],xs:decAxis(1273.9,1326),ys:yB,zeroX:1.6,
  layers:[{color:'orange',clouds:b4OrangeClouds,solids:b4OrangeSolids,pale:b4OrangePale,white:b4OrangeWhite,families:b4OrangeFamilies,points:b4OrangeOutliers},
          {color:'blue',clouds:b4BlueClouds,families:b4BlueFamilies,points:b4BlueOutliers}],
  gates:function(g,p){vGate(g,p,b4Gate);},
  axis:[1120.3,1250,969.3,1413.3],yLabel:['PBS57 Tet–PE',1098,1111.7,200],xLabel:['CD8β–APC-Cy7',1269.8,1286.7,218]},tickB));

/* ---------- Panel C ---------- */
const tickC={tick:8.5,xDy:19,yDx:11,yLog:true,xLog:true};
flowPlot(Object.assign({name:'ctc-cd4-cd8a-plot',rect:[246.3,1398.3,482.8,1635],xs:decAxis(356.5,408.9),ys:decAxis(1530.3,1474.3),zeroX:1.66,
  layers:[{color:'orange',clouds:c1Clouds,solids:c1Solids,pale:c1Pale,white:c1White,
    polyFamilies:[{pts:c1Pale[0],peak:c1PeakUpper},{pts:c1Pale[1],peak:c1PeakLower},{pts:c1Pale[2],peak:c1PeakRight}],points:c1Outliers}],
  gates:function(g,p){quadGate(g,p,cdQuadC1);},
  axis:[212.3,1664.3,1383.3,504.4],yLabel:['CD8α–FITC',190,1525.8,158],xLabel:['CD4–PerCP',362,1700,163]},tickC));
flowPlot(Object.assign({name:'inkt-cd4-cd8a-plot',rect:[617.8,1398.3,852.8,1633.3],xs:decAxis(727,779.8),ys:decAxis(1529,1473.3),zeroX:1.69,
  layers:[{color:'bright',polyFamilies:[{pts:c2UpperContour,peak:c2UpperPeak,levels:denseLevels},{pts:c2LowerContour,peak:c2LowerPeak,levels:contourLevels.slice(0,8).concat([.08])}],lines:c2Lines,points:c2Outliers}],
  gates:function(g,p){quadGate(g,p,cdQuadC2);},
  axis:[583.8,1664.3,1383.3,875.3],yLabel:['CD8α–FITC',560.4,1525.8,158],xLabel:['CD4–PerCP',733,1700,163]},tickC));

/* subset box plot */
(function(){
  const g=group(svg,'inkt-subset-boxplot');
  const y=function(v){return 1674-v*2.783;};
  const xc=[1073.3,1127.3,1181.3];
  const fills=['#6bb5ff','#0a78f0','#000'];
  subsetNames.forEach(function(nm,i){
    const s=group(g,'subset-box-'+nm);
    const cx=xc[i];
    if(i<2){
      mk(s,'line',{x1:cx,y1:y(subsetHigh[i]),x2:cx,y2:y(subsetLow[i]),stroke:'#000','stroke-width':2},'box-whisker');
      mk(s,'line',{x1:cx-9,y1:y(subsetHigh[i]),x2:cx+9,y2:y(subsetHigh[i]),stroke:'#000','stroke-width':2},'whisker-cap-high');
      mk(s,'line',{x1:cx-9,y1:y(subsetLow[i]),x2:cx+9,y2:y(subsetLow[i]),stroke:'#000','stroke-width':2},'whisker-cap-low');
      mk(s,'rect',{x:cx-17,y:y(subsetQ3[i]),width:34,height:y(subsetQ1[i])-y(subsetQ3[i]),fill:fills[i],stroke:'#000','stroke-width':2.2},'interquartile-box');
      mk(s,'line',{x1:cx-17,y1:y(subsetMedian[i]),x2:cx+17,y2:y(subsetMedian[i]),stroke:'#000','stroke-width':2.2},'median-line');
    }else{
      mk(s,'line',{x1:cx,y1:y(subsetQ3[i]),x2:cx,y2:y(subsetLow[i]),stroke:'#000','stroke-width':2},'box-whisker');
      mk(s,'line',{x1:cx-9,y1:y(subsetLow[i]),x2:cx+9,y2:y(subsetLow[i]),stroke:'#000','stroke-width':2},'whisker-cap-low');
      mk(s,'line',{x1:cx-17.5,y1:y(subsetQ3[i]),x2:cx+17.5,y2:y(subsetQ3[i]),stroke:'#000','stroke-width':3.4},'collapsed-box');
      mk(s,'rect',{x:cx-3.4,y:y(subsetOutlier[0])-3.4,width:6.8,height:6.8,fill:'#000'},'outlier-point');
    }
    mk(s,'line',{x1:cx,y1:1674,x2:cx,y2:1679,stroke:'#000','stroke-width':3},'x-tick');
  });
  mk(g,'line',{x1:1037,y1:1380.7,x2:1037,y2:1675.5,stroke:'#000','stroke-width':3},'y-axis-line');
  mk(g,'line',{x1:1032.3,y1:1674,x2:1219.3,y2:1674,stroke:'#000','stroke-width':3},'x-axis-line');
  subsetTicks.forEach(function(v){
    mk(g,'line',{x1:1032.3,y1:y(v),x2:1037,y2:y(v),stroke:'#000','stroke-width':2.6},'y-tick');
    txt(g,1027.7,y(v)+8.5,String(v),{size:25,anchor:'end'},'y-tick-label');
  });
  txt(g,1081,1707,subsetNames[0],{size:27,anchor:'end',rot:-45},'x-category-label');
  rich(g,1132,1703,[['CD8',0],[subsetNames[1].slice(3),0,1],['+',1]],{size:27,anchor:'end',rot:-45,rise:.6,supScale:.6},'x-category-label');
  txt(g,1189,1707,subsetNames[2],{size:27,anchor:'end',rot:-45},'x-category-label');
  txt(g,925,1517.5,'Frequency of',{size:29,rot:-90,len:171.6},'y-axis-title-line-1');
  txt(g,960,1520,'iNKT cell subset [%]',{size:29,rot:-90,len:260},'y-axis-title-line-2');
})();
</script>
</body>
</html>
